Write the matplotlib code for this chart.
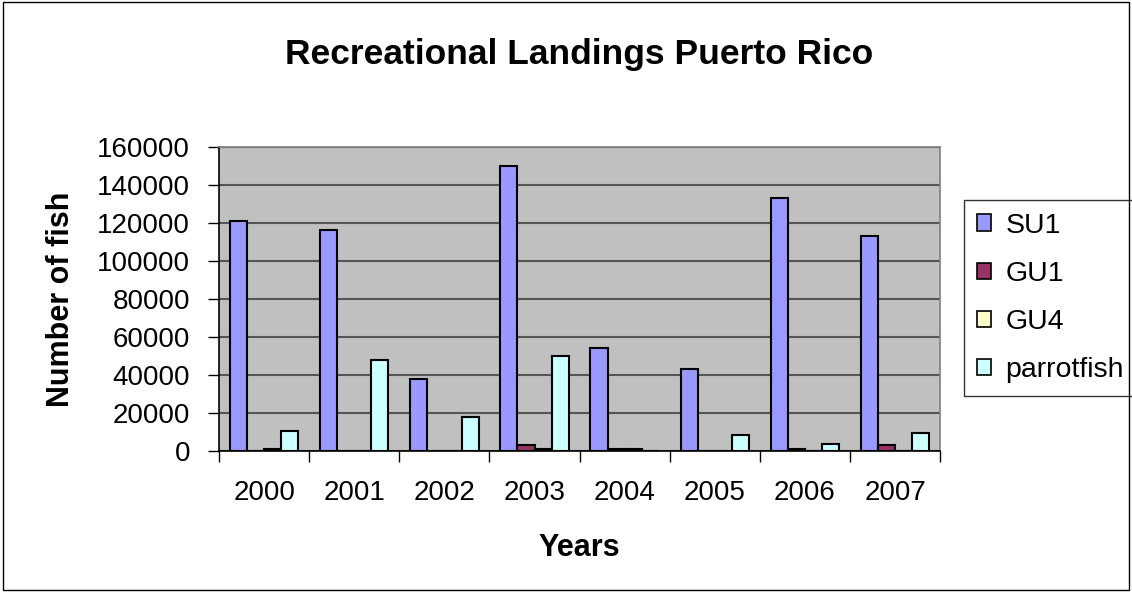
import numpy as np
import matplotlib
matplotlib.use("Agg")
from matplotlib import pyplot as plt
from matplotlib.patches import Rectangle

plt.rcParams['font.family'] = ['Liberation Sans', 'DejaVu Sans']

years = ["2000", "2001", "2002", "2003", "2004", "2005", "2006", "2007"]
su1 = [121000, 116000, 38000, 150000, 54000, 43000, 133000, 113000]
gu1 = [0, 0, 0, 3200, 1000, 0, 1000, 3000]
gu4 = [1000, 0, 0, 1000, 1000, 0, 0, 0]
parrotfish = [10500, 48000, 18000, 50000, 0, 8400, 3500, 9500]

series = [("SU1", su1, "#9999FF"), ("GU1", gu1, "#993366"),
          ("GU4", gu4, "#FFFFCC"), ("parrotfish", parrotfish, "#CCFFFF")]

fig = plt.figure(figsize=(11.32, 5.92), dpi=100)
ax = fig.add_axes([0.1935, 0.238, 0.637, 0.514])
ax.set_facecolor("#C0C0C0")

x = np.arange(len(years))
w = 0.19
for i, (name, vals, col) in enumerate(series):
    ax.bar(x + (i - 1.5) * w, vals, w, color=col, edgecolor="black",
           linewidth=1.5, label=name, zorder=3)

ax.set_xlim(-0.5, len(years) - 0.5)
ax.set_ylim(0, 160000)
ax.set_yticks(np.arange(0, 160001, 20000))
ax.yaxis.grid(True, color="#555555", linewidth=1.5, zorder=0)
ax.set_xticks(x)
ax.set_xticklabels(years, fontsize=20)
ax.set_xticks(np.arange(-0.5, len(years)), minor=True)
ax.tick_params(axis="x", which="major", length=0, pad=21)
ax.tick_params(axis="x", which="minor", length=8, width=1, direction="out")
ax.tick_params(axis="y", labelsize=20, length=8, width=1, direction="out", pad=13)
for s in ax.spines.values():
    s.set_color("#808080")
    s.set_linewidth(1.2)
ax.spines["left"].set_color("black")
ax.spines["bottom"].set_color("black")

ax.set_xlabel("Years", fontsize=22, fontweight="bold", labelpad=19)
ax.set_ylabel("Number of fish", fontsize=22, fontweight="bold", labelpad=15)
fig.text(0.512, 0.935, "Recreational Landings Puerto Rico", fontsize=25.5,
         fontweight="bold", ha="center", va="top")

leg = ax.legend(loc="upper left", bbox_to_anchor=(1.033, 0.826), fontsize=20.5,
                frameon=True, fancybox=False, edgecolor="black",
                handlelength=0.5, handleheight=0.5, labelspacing=0.78,
                borderpad=0.45, handletextpad=0.5, borderaxespad=0)
leg.get_frame().set_linewidth(1.0)
for h in leg.legend_handles:
    h.set_linewidth(1.2)

fig.patches.append(Rectangle((0.003, 0.003), 0.994, 0.994, transform=fig.transFigure,
                             fill=False, edgecolor="black", linewidth=1))

fig.savefig("out.png", dpi=100)
